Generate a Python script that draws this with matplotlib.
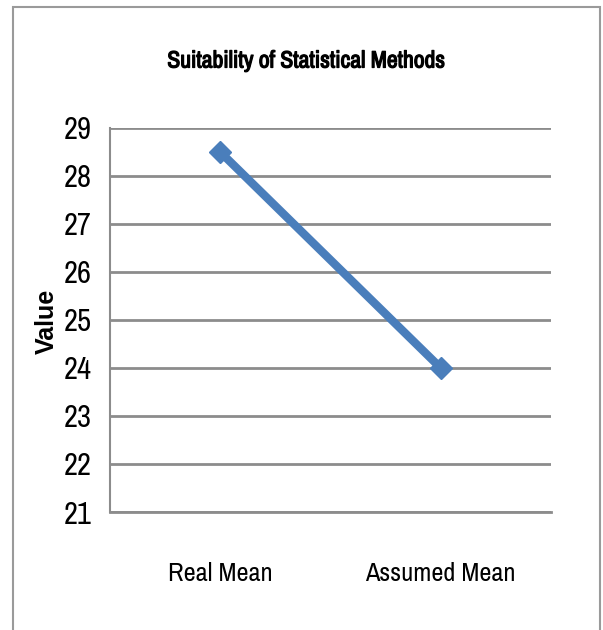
import matplotlib
matplotlib.use("Agg")
import matplotlib.pyplot as plt
from matplotlib.patches import Rectangle
from matplotlib import font_manager as fm
import matplotlib.patheffects as pe

categories = ["Real Mean", "Assumed Mean"]
values = [28.5, 24.0]
yticks = [21, 22, 23, 24, 25, 26, 27, 28, 29]
title = "Suitability of Statistical Methods"
ylabel = "Value"

# prefer a condensed face if one is installed
cands = [f for f in fm.fontManager.ttflist
         if ("Condensed" in f.name or "Narrow" in f.name or f.stretch in ("condensed", "semi-condensed"))]
names = sorted({f.name for f in cands})
narrow_family = names[0] if names else "DejaVu Sans"
narrow = [narrow_family, "DejaVu Sans"]

fig = plt.figure(figsize=(6.03, 6.30), dpi=100)
fig.patch.set_facecolor("white")

fig.patches.append(Rectangle((13 / 603, -0.05), (600 - 13) / 603, 1 - 7 / 630 + 0.05,
                             transform=fig.transFigure, fill=False,
                             edgecolor="#9a9a9a", linewidth=1.5))

ax = fig.add_axes([110 / 603, 1 - 512 / 630, 441 / 603, (512 - 128) / 630])
x = list(range(len(categories)))
ax.plot(x, values, color="#4a7ebb", linewidth=6, marker="D", markersize=11,
        markeredgecolor="#4a7ebb", markerfacecolor="#4a7ebb", zorder=3)

ax.set_xlim(-0.5, len(categories) - 0.5)
ax.set_ylim(21, 29)
ax.set_yticks(yticks)
ax.set_xticks(x)
ax.set_xticklabels(categories, family=narrow, fontsize=19, stretch="condensed")
ax.set_yticklabels([str(t) for t in yticks], family=narrow, fontsize=22, stretch="condensed")
ax.yaxis.grid(True, color="#8c8c8c", linewidth=2)
ax.set_axisbelow(True)
ax.tick_params(length=0, colors="black")
ax.tick_params(axis="y", pad=13)
ax.tick_params(axis="x", pad=36)
for s in ["top", "right"]:
    ax.spines[s].set_visible(False)
ax.spines["left"].set_color("#8c8c8c")
ax.spines["left"].set_linewidth(1.5)
ax.spines["bottom"].set_color("#8c8c8c")
ax.spines["bottom"].set_linewidth(2)

fig.text(306 / 603, 1 - 61 / 630, title, ha="center", va="center",
         family=narrow, fontsize=17, fontweight="bold", stretch="condensed",
         path_effects=[pe.withStroke(linewidth=0.9, foreground="black")])
fig.text(47 / 603, 1 - 321 / 630, ylabel, ha="center", va="center", rotation=90,
         family=["Liberation Sans", "DejaVu Sans"], fontsize=18, fontweight="bold")

fig.savefig("out.png", dpi=100, facecolor="white")
